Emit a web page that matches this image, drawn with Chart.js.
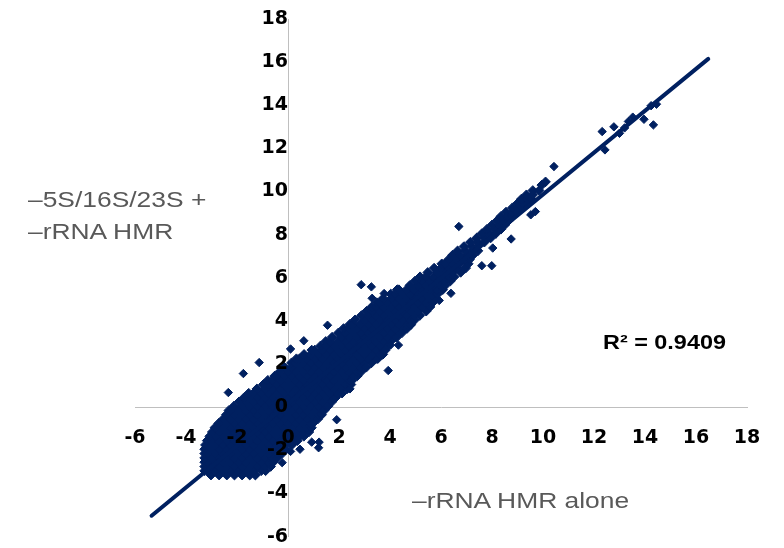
<!DOCTYPE html>
<html><head><meta charset="utf-8">
<script src="https://cdn.jsdelivr.net/npm/chart.js@4.4.0/dist/chart.umd.min.js"></script>
<style>
html,body{margin:0;padding:0;background:#fff;}
#wrap{position:relative;width:784px;height:548px;overflow:hidden;}
canvas{position:absolute;left:0;top:0;}
.lbl{position:absolute;font-family:"Liberation Sans",Arial,sans-serif;white-space:nowrap;transform-origin:0 0;transform:scaleX(1.2);}
.title{color:#595959;font-size:22px;line-height:32px;}
#r2{font-weight:bold;color:#000;font-size:19.5px;line-height:24px;}
</style></head>
<body>
<div id="wrap">
<canvas id="c" width="784" height="548"></canvas>
<div class="lbl title" style="left:28px;top:184px;">–5S/16S/23S +<br>–rRNA HMR</div>
<div class="lbl title" style="left:412px;top:485px;">–rRNA HMR alone</div>
<div class="lbl" id="r2" style="left:603px;top:330px;">R² = 0.9409</div>
</div>
<script>
// Tick values (both axes)
const xTicks = [-6,-4,-2,0,2,4,6,8,10,12,14,16,18];
const yTicks = [-6,-4,-2,0,2,4,6,8,10,12,14,16,18];

// Dense core of the scatter, read row by row: [y, [x values]]
const cloudRows = [
 [-3.15, [-3.02,-2.7,-2.4,-2.1,-1.8,-1.5,-1.28]],
 [-2.95, [-3.27,-3.15,-2.85,-2.55,-2.25,-1.95,-1.65,-1.35,-1.05,-0.88]],
 [-2.75, [-3.27,-3.0,-2.7,-2.4,-2.1,-1.8,-1.5,-1.2,-0.9,-0.68]],
 [-2.55, [-3.27,-3.15,-2.85,-2.55,-2.25,-1.95,-1.65,-1.35,-1.05,-0.75,-0.58]],
 [-2.35, [-3.27,-3.0,-2.7,-2.4,-2.1,-1.8,-1.5,-1.2,-0.9,-0.6,-0.43]],
 [-2.15, [-3.27,-3.15,-2.85,-2.55,-2.25,-1.95,-1.65,-1.35,-1.05,-0.75,-0.45,-0.23]],
 [-1.95, [-3.27,-3.0,-2.7,-2.4,-2.1,-1.8,-1.5,-1.2,-0.9,-0.6,-0.3,-0.08]],
 [-1.75, [-3.24,-3.15,-2.85,-2.55,-2.25,-1.95,-1.65,-1.35,-1.05,-0.75,-0.45,-0.15,0.15]],
 [-1.55, [-3.17,-3.0,-2.7,-2.4,-2.1,-1.8,-1.5,-1.2,-0.9,-0.6,-0.3,0,0.3,0.37]],
 [-1.35, [-3.07,-2.85,-2.55,-2.25,-1.95,-1.65,-1.35,-1.05,-0.75,-0.45,-0.15,0.15,0.45,0.62]],
 [-1.15, [-2.97,-2.7,-2.4,-2.1,-1.8,-1.5,-1.2,-0.9,-0.6,-0.3,0,0.3,0.6,0.82]],
 [-0.95, [-2.87,-2.55,-2.25,-1.95,-1.65,-1.35,-1.05,-0.75,-0.45,-0.15,0.15,0.45,0.75,0.92]],
 [-0.75, [-2.72,-2.4,-2.1,-1.8,-1.5,-1.2,-0.9,-0.6,-0.3,0,0.3,0.6,0.9,0.97]],
 [-0.55, [-2.54,-2.25,-1.95,-1.65,-1.35,-1.05,-0.75,-0.45,-0.15,0.15,0.45,0.75,1.05,1.17]],
 [-0.35, [-2.42,-2.1,-1.8,-1.5,-1.2,-0.9,-0.6,-0.3,0,0.3,0.6,0.9,1.2,1.32]],
 [-0.15, [-2.32,-2.25,-1.95,-1.65,-1.35,-1.05,-0.75,-0.45,-0.15,0.15,0.45,0.75,1.05,1.35,1.42]],
 [0.05, [-2.12,-1.8,-1.5,-1.2,-0.9,-0.6,-0.3,0,0.3,0.6,0.9,1.2,1.5,1.57]],
 [0.25, [-1.92,-1.65,-1.35,-1.05,-0.75,-0.45,-0.15,0.15,0.45,0.75,1.05,1.35,1.65,1.72]],
 [0.45, [-1.72,-1.5,-1.2,-0.9,-0.6,-0.3,0,0.3,0.6,0.9,1.2,1.5,1.8,1.87]],
 [0.65, [-1.54,-1.35,-1.05,-0.75,-0.45,-0.15,0.15,0.45,0.75,1.05,1.35,1.65,1.95,2.12]],
 [0.85, [-1.22,-0.9,-0.6,-0.3,0,0.3,0.6,0.9,1.2,1.5,1.8,2.1,2.32]],
 [1.05, [-0.97,-0.75,-0.45,-0.15,0.15,0.45,0.75,1.05,1.35,1.65,1.95,2.25,2.47]],
 [1.25, [-0.79,-0.6,-0.3,0,0.3,0.6,0.9,1.2,1.5,1.8,2.1,2.4,2.52]],
 [1.45, [-0.52,-0.45,-0.15,0.15,0.45,0.75,1.05,1.35,1.65,1.95,2.25,2.55,2.72]],
 [1.65, [-0.32,0,0.3,0.6,0.9,1.2,1.5,1.8,2.1,2.4,2.7,2.87]],
 [1.85, [-0.14,0.15,0.45,0.75,1.05,1.35,1.65,1.95,2.25,2.55,2.85,3.07]],
 [2.05, [0.13,0.3,0.6,0.9,1.2,1.5,1.8,2.1,2.4,2.7,3.0,3.27]],
 [2.25, [0.33,0.45,0.75,1.05,1.35,1.65,1.95,2.25,2.55,2.85,3.15,3.45,3.52]],
 [2.45, [0.63,0.9,1.2,1.5,1.8,2.1,2.4,2.7,3.0,3.3,3.6,3.72]],
 [2.65, [0.93,1.05,1.35,1.65,1.95,2.25,2.55,2.85,3.15,3.45,3.75,3.82]],
 [2.85, [1.28,1.5,1.8,2.1,2.4,2.7,3.0,3.3,3.6,3.92]],
 [3.05, [1.48,1.65,1.95,2.25,2.55,2.85,3.15,3.45,3.75,4.02]],
 [3.25, [1.73,2.1,2.4,2.7,3.0,3.3,3.6,3.9,4.2,4.27]],
 [3.45, [1.98,2.25,2.55,2.85,3.15,3.45,3.75,4.05,4.35,4.47]],
 [3.65, [2.18,2.4,2.7,3.0,3.3,3.6,3.9,4.2,4.5,4.67]],
 [3.85, [2.43,2.55,2.85,3.15,3.45,3.75,4.05,4.35,4.65,4.82]],
 [4.05, [2.63,3.0,3.3,3.6,3.9,4.2,4.5,4.8,4.97]],
 [4.25, [2.88,3.15,3.45,3.75,4.05,4.35,4.65,4.95,5.17]],
 [4.45, [3.08,3.3,3.6,3.9,4.2,4.5,4.8,5.1,5.42]],
 [4.65, [3.28,3.45,3.75,4.05,4.35,4.65,4.95,5.25,5.57]],
 [4.85, [3.48,3.6,3.9,4.2,4.5,4.8,5.1,5.4,5.67]],
 [5.05, [3.73,4.05,4.35,4.65,4.95,5.25,5.55,5.77]],
 [5.25, [4.03,4.2,4.5,4.8,5.1,5.4,5.7,5.87]],
 [5.45, [4.28,4.35,4.65,4.95,5.25,5.55,5.85,6.07]],
 [5.65, [4.78,5.1,5.4,5.7,6.0,6.17]],
 [5.85, [4.98,5.25,5.55,5.85,6.15,6.37]],
 [6.05, [5.18,5.4,5.7,6.0,6.3,6.52]],
 [6.25, [5.48,5.85,6.15,6.45,6.77]],
 [6.45, [5.73,6.0,6.3,6.6,6.97]],
 [6.65, [6.03,6.15,6.45,6.75,7.07]],
 [6.85, [6.3,6.6,6.9,7.12]],
 [7.05, [6.45,6.75,7.05,7.25]],
 [7.25, [6.65,6.95,7.25,7.45]],
 [7.45, [6.9,7.2,7.45]],
 [7.65, [7.15,7.45,7.7]],
 [7.85, [7.4,7.7,7.95]],
 [8.05, [7.6,7.9,8.15]],
 [8.25, [7.8,8.1,8.35]],
 [8.45, [8.0,8.3,8.5]],
 [8.65, [8.2,8.45,8.65]],
 [8.85, [8.35,8.6,8.8]],
 [9.05, [8.55,8.8,9.0]],
 [9.25, [8.8,9.0,9.2]],
 [9.45, [9.0,9.2,9.4]],
 [9.65, [9.15,9.4,9.55]],
 [9.85, [9.35,9.6]],
 [10.05, [9.6,9.85]],
 [10.3, [9.95]],
 [10.45, [10.1]]
];

// Isolated points around the cloud and along the upper end: [x, y]
const outlierPts = [
 [-2.34,0.68],[-1.75,1.56],[-1.13,2.07],[0.1,2.7],[0.62,3.08],[1.55,3.8],
 [2.87,5.68],[3.27,5.58],[3.3,5.05],[3.77,5.27],[5.93,4.95],[6.39,5.28],
 [4.82,3.8],[4.02,2.88],[4.33,2.88],[3.93,1.7],[3.05,1.85],[2.43,0.85],
 [1.91,-0.58],[0.93,-1.62],[1.22,-1.62],[1.2,-1.88],[0.47,-1.95],[0.1,-2.05],[-0.23,-2.57],
 [6.7,8.38],[8.75,7.8],[9.52,8.92],[9.7,9.07],[8.03,7.38],[7.6,6.56],[7.99,6.56],
 [10.43,11.16],[12.43,11.93],[12.32,12.78],[12.78,13.0],[13.0,12.7],[13.2,12.95],
 [13.35,13.25],[13.52,13.45],[13.96,13.35],[14.33,13.09],[14.24,13.98],[14.45,14.05]
];

// Linear trend line end points
const trendX = [-5.35, 16.48];
const trendY = [-5.03, 16.15];

const NAVY = '#002060';
const corePts = [];
cloudRows.forEach(([y, xs]) => xs.forEach(x => corePts.push({x: x, y: y})));
const loosePts = outlierPts.map(([x, y]) => ({x: x, y: y}));
const trend = trendX.map((x, i) => ({x: x, y: trendY[i]}));

const tickFont = {family: 'DejaVu Sans', weight: 'bold', size: 19};

new Chart(document.getElementById('c'), {
  type: 'scatter',
  data: {
    datasets: [
      {type: 'line', data: trend, borderColor: NAVY, borderWidth: 4, borderCapStyle: 'round',
       pointRadius: 0, fill: false, order: 0},
      {data: loosePts, pointStyle: 'rectRot', pointRadius: 4.2, backgroundColor: NAVY,
       borderColor: NAVY, borderWidth: 1, order: 1},
      {data: corePts, pointStyle: 'rectRot', pointRadius: 4.8, backgroundColor: NAVY,
       borderColor: NAVY, borderWidth: 1, order: 2}
    ]
  },
  options: {
    responsive: false, devicePixelRatio: 1, animation: false, events: [],
    layout: {padding: {left: 135, right: 37, top: 19, bottom: 11}},
    plugins: {legend: {display: false}, tooltip: {enabled: false}},
    scales: {
      x: {
        type: 'linear', min: -6, max: 18, position: {y: 0},
        afterBuildTicks: s => { s.ticks = xTicks.map(v => ({value: v})); },
        grid: {display: false, drawTicks: true, tickLength: 19},
        border: {display: true, color: '#bfbfbf', width: 1},
        ticks: {padding: 0, color: '#000', font: tickFont, maxRotation: 0, autoSkip: false, z: 1}
      },
      y: {
        type: 'linear', min: -6, max: 18, position: {x: 0},
        afterBuildTicks: s => { s.ticks = yTicks.map(v => ({value: v})); },
        grid: {display: false, drawTicks: true, tickLength: 22},
        border: {display: true, color: '#bfbfbf', width: 1},
        ticks: {padding: 0, color: '#000', font: tickFont, autoSkip: false, z: 1}
      }
    }
  }
});
</script>
</body></html>
